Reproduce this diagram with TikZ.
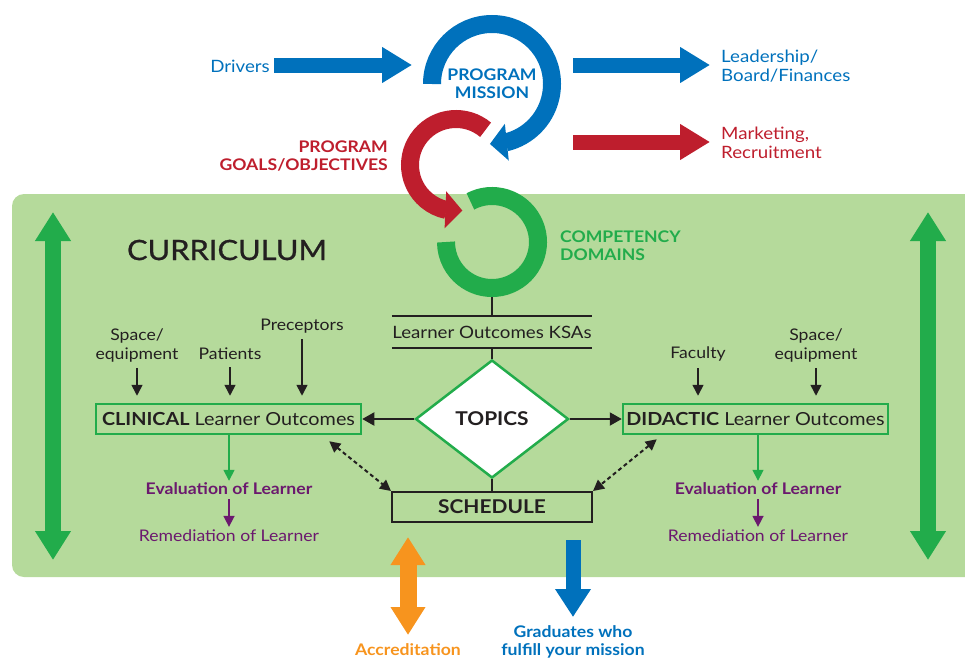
\documentclass[tikz,border=0pt]{standalone}
\usepackage{fontspec}
\setmainfont{Lato}[FakeStretch=1.1]
\newfontfamily\curfont{Lato}[FakeStretch=1.1,FakeBold=0.8]
\usetikzlibrary{arrows.meta,shapes.geometric,bending}
\definecolor{mblue}{RGB}{0,113,188}
\definecolor{mred}{RGB}{190,30,45}
\definecolor{rgreen}{RGB}{34,172,75}
\definecolor{bggreen}{RGB}{181,218,155}
\definecolor{mpurple}{RGB}{107,25,110}
\definecolor{morange}{RGB}{247,148,30}
\definecolor{tblack}{RGB}{35,31,32}
\begin{document}
\begin{tikzpicture}[x=1pt,y=-1pt,
  lbl/.style={font=\fontsize{17}{19}\selectfont, inner sep=0pt, text=tblack},
  sml/.style={font=\fontsize{16}{19}\selectfont, inner sep=0pt, text=tblack},
  bl/.style={font=\fontsize{16}{18}\selectfont\bfseries, inner sep=0pt},
  ring/.style={line width=18pt},
  ringtip/.style={-{Triangle[length=17pt,width=36pt]}},
  blockarr/.style={line width=15pt, -{Triangle[length=30pt,width=34pt]}},
  dblarr/.style={line width=16pt, {Triangle[length=29pt,width=34pt]}-{Triangle[length=29pt,width=34pt]}},
  inarr/.style={draw=tblack, line width=1.6pt, -{Triangle[length=11pt,width=11pt]}},
  sidearr/.style={draw=tblack, line width=2pt, -{Triangle[length=12pt,width=13pt]}},
  dotarr/.style={draw=tblack, line width=2pt, dash pattern=on 4pt off 3pt, {Triangle[length=11pt,width=11pt]}-{Triangle[length=11pt,width=11pt]}},
  outbox/.style={draw=rgreen, line width=2.5pt, minimum width=265pt, minimum height=30pt, inner sep=0pt, font=\fontsize{18}{20}\selectfont, text=tblack},
]
\useasboundingbox (0,0) rectangle (965,661);
% background
\fill[bggreen, rounded corners=12pt] (12,194) rectangle (977,577);

% rings
\draw[ring, rgreen] (492,242) ++(-118:46) arc[start angle=-118, end angle=180, radius=46];
\draw[ring, mred, ringtip] (456,165) ++(-50:46) arc[start angle=-50, end angle=-278, radius=46];
\draw[ring, mblue, ringtip] (492,84) ++(180:60) arc[start angle=180, end angle=452, radius=60];
\coordinate (ringbot) at (492,297);

% top texts
\node[lbl, text=mblue, anchor=east] (drivers) at (270,66) {Drivers};
\node[bl, text=mblue, align=center] (mission) at (492,84) {PROGRAM\\MISSION};
\node[lbl, text=mblue, anchor=west, align=left] (lead) at (721,66) {Leadership/\\Board/Finances};
\node[lbl, text=mred, anchor=west, align=left] (mkt) at (721,143) {Marketing,\\Recruitment};
\node[bl, text=mred, anchor=east, align=right] (goals) at (388,156) {PROGRAM\\GOALS/OBJECTIVES};
\node[bl, text=rgreen, anchor=west, align=left] (comp) at (560,246) {COMPETENCY\\DOMAINS};

\coordinate (dA) at (274,65); \coordinate (dB) at (412,65);
\coordinate (lA) at (573,65); \coordinate (lB) at (710,65);
\coordinate (mA) at (573,142); \coordinate (mB) at (710,142);
\draw[blockarr, mblue] (dA) -- (dB);
\draw[blockarr, mblue] (lA) -- (lB);
\draw[blockarr, mred] (mA) -- (mB);

% curriculum
\node[font=\curfont\fontsize{28}{30}\selectfont, text=tblack, inner sep=0pt] (curr) at (227,250) {CURRICULUM};

% big side arrows
\coordinate (gl1) at (53,212); \coordinate (gl2) at (53,560);
\coordinate (gr1) at (928,212); \coordinate (gr2) at (928,560);
\draw[dblarr, rgreen] (gl1) -- (gl2);
\draw[dblarr, rgreen] (gr1) -- (gr2);

% center column
\node[lbl, minimum width=200pt, minimum height=32pt] (ksa) at (492,332) {Learner Outcomes KSAs};
\draw[tblack, line width=2pt] (ksa.north west) -- (ksa.north east);
\draw[tblack, line width=2pt] (ksa.south west) -- (ksa.south east);
\node[diamond, draw=rgreen, fill=white, line width=2.5pt, minimum width=153pt, minimum height=118pt, aspect=1.3, inner sep=0pt, font=\fontsize{19}{21}\selectfont\bfseries, text=tblack] (topics) at (492,419) {TOPICS};
\node[draw=tblack, line width=2pt, minimum width=200pt, minimum height=30pt, inner sep=0pt, font=\fontsize{19}{21}\selectfont\bfseries, text=tblack] (sched) at (492,507) {SCHEDULE};
\draw[tblack, line width=2pt] (ringbot) -- (ksa.north);
\draw[tblack, line width=2pt] (ksa.south) -- (topics.north);
\draw[tblack, line width=2pt] (topics.south) -- (sched.north);

% clinical side
\node[outbox] (clin) at (228.5,419) {\textbf{CLINICAL} Learner Outcomes};
\node[sml, align=center] (space1) at (137,345) {Space/\\equipment};
\node[sml] (pat) at (230,354) {Patients};
\node[sml] (prec) at (302,326) {Preceptors};
\draw[inarr, shorten <=6pt, shorten >=7pt] (space1.south) -- (space1.south |- clin.north);
\draw[inarr, shorten <=7pt, shorten >=7pt] (pat.south) -- (pat.south |- clin.north);
\draw[inarr, shorten <=6pt, shorten >=7pt] (prec.south) -- (prec.south |- clin.north);
\draw[sidearr] (topics.west) -- (clin.east);
\node[bl, text=mpurple] (ev1) at (229,489) {Evaluation of Learner};
\node[sml, text=mpurple] (rem1) at (229,536) {Remediation of Learner};
\draw[draw=rgreen, line width=1.6pt, -{Triangle[length=11pt,width=11pt]}, shorten >=2pt] (clin.south -| ev1.north) -- (ev1.north);
\draw[draw=mpurple, line width=1.6pt, -{Triangle[length=11pt,width=11pt]}, shorten <=4pt, shorten >=3pt] (ev1.south) -- (rem1.north);
\draw[dotarr] ([xshift=-33pt,yshift=-6pt]clin.south east) -- (sched.north west);

% didactic side
\node[outbox] (did) at (755.5,419) {\textbf{DIDACTIC} Learner Outcomes};
\node[sml] (fac) at (698,354) {Faculty};
\node[sml, align=center] (space2) at (816,345) {Space/\\equipment};
\draw[inarr, shorten <=7pt, shorten >=7pt] (fac.south) -- (fac.south |- did.north);
\draw[inarr, shorten <=6pt, shorten >=7pt] (space2.south) -- (space2.south |- did.north);
\draw[sidearr] (topics.east) -- (did.west);
\node[bl, text=mpurple] (ev2) at (758,489) {Evaluation of Learner};
\node[sml, text=mpurple] (rem2) at (758,536) {Remediation of Learner};
\draw[draw=rgreen, line width=1.6pt, -{Triangle[length=11pt,width=11pt]}, shorten >=2pt] (did.south -| ev2.north) -- (ev2.north);
\draw[draw=mpurple, line width=1.6pt, -{Triangle[length=11pt,width=11pt]}, shorten <=4pt, shorten >=3pt] (ev2.south) -- (rem2.north);
\draw[dotarr] ([xshift=35pt,yshift=-4pt]did.south west) -- (sched.north east);

% bottom
\coordinate (oA) at (408,537); \coordinate (oB) at (408,635);
\draw[line width=17pt, morange, {Triangle[length=28pt,width=33pt]}-{Triangle[length=28pt,width=33pt]}] (oA) -- (oB);
\node[bl, text=morange] (accr) at (408,650) {Accreditation};
\coordinate (bA) at (573,540); \coordinate (bB) at (573,617);
\draw[line width=15pt, mblue, -{Triangle[length=28pt,width=34pt]}] (bA) -- (bB);
\node[bl, text=mblue, align=center] (grad) at (573,642) {Graduates who\\fulfill your mission};
\end{tikzpicture}
\end{document}
